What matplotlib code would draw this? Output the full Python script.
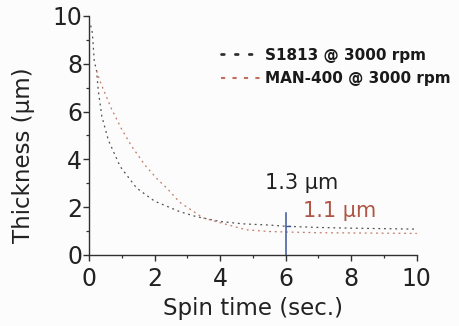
import matplotlib
matplotlib.use("Agg")
import matplotlib.pyplot as plt
from matplotlib.lines import Line2D
from matplotlib.ticker import MultipleLocator

# ---- data ----
s1813_t = [0.05, 0.1, 0.16, 0.23, 0.28, 0.39, 0.59, 0.95, 1.45, 2.0, 2.77, 3.28, 4.0, 4.7, 5.5, 6.0, 7.0, 8.0, 9.0, 10.0]
s1813_y = [9.6, 9.3, 8.1, 7.7, 6.9, 5.8, 4.8, 3.7, 2.8, 2.25, 1.81, 1.6, 1.4, 1.3, 1.25, 1.2, 1.15, 1.12, 1.1, 1.08]
man_t = [0.23, 0.34, 0.49, 0.69, 1.0, 1.3, 1.71, 2.1, 2.37, 2.77, 3.48, 4.0, 4.8, 5.5, 6.0, 7.0, 8.0, 9.0, 10.0]
man_y = [7.7, 7.25, 6.75, 6.1, 5.25, 4.55, 3.75, 3.15, 2.8, 2.2, 1.55, 1.35, 1.05, 0.98, 0.96, 0.93, 0.92, 0.91, 0.9]
labels = ["S1813 @ 3000 rpm", "MAN-400 @ 3000 rpm"]
marker_t = 6.0
marker_top = 1.75
marker_cross = 1.2
ann_texts = ["1.3 \u03bcm", "1.1 \u03bcm"]
ann_pos = [(5.37, 3.0), (6.52, 1.84)]

black_c = "#505050"
red_c = "#c07a68"

plt.rcParams['font.family'] = ['DejaVu Sans']
fig = plt.figure(figsize=(4.59, 3.26), dpi=100)
fig.patch.set_facecolor("#fcfcfc")
ax = fig.add_axes([0.194, 0.218, 0.714, 0.733])
ax.set_facecolor("#fcfcfc")

ax.plot(s1813_t, s1813_y, color=black_c, lw=0.9, ls=(0, (1.5, 3)))
ax.plot(man_t, man_y, color=red_c, lw=0.9, ls=(0, (1.5, 3)))

ax.plot([marker_t, marker_t], [0, marker_top], color="#3a55a0", lw=1.1)
ax.plot([marker_t, marker_t + 0.12], [marker_cross, marker_cross], color="#3a55a0", lw=1.0)

ax.text(ann_pos[0][0], ann_pos[0][1], ann_texts[0], fontsize=15, color="#202020", va="center")
ax.text(ann_pos[1][0], ann_pos[1][1], ann_texts[1], fontsize=15, color="#b05545", va="center")

ax.set_xlim(0, 10)
ax.set_ylim(0, 10)
ax.xaxis.set_major_locator(MultipleLocator(2))
ax.xaxis.set_minor_locator(MultipleLocator(1))
ax.yaxis.set_major_locator(MultipleLocator(2))
ax.yaxis.set_minor_locator(MultipleLocator(1))
for s in ["top", "right"]:
    ax.spines[s].set_visible(False)
for s in ["left", "bottom"]:
    ax.spines[s].set_color("#303030")
    ax.spines[s].set_linewidth(1.0)
ax.tick_params(which="major", direction="out", length=4, width=1.0, labelsize=17, colors="#303030")
ax.tick_params(axis="y", which="major", pad=1)
ax.tick_params(axis="x", which="major", pad=5)
ax.tick_params(which="minor", direction="out", length=2.5, width=0.9, colors="#303030")
for lab in ax.get_xticklabels() + ax.get_yticklabels():
    lab.set_color("#222222")

ax.set_xlabel("Spin time (sec.)", fontsize=16.5, color="#222222", labelpad=4)
ax.set_ylabel("Thickness (\u03bcm)", fontsize=16.5, color="#222222")
ax.yaxis.set_label_coords(-0.165, 0.418)

handles = [Line2D([], [], color="#303030", lw=2.0, ls=(0, (1, 4)), dash_capstyle="round"),
           Line2D([], [], color="#c07060", lw=1.5, ls=(0, (2, 3.5)))]
leg = ax.legend(handles, labels, loc="upper right", bbox_to_anchor=(1.145, 0.925),
                frameon=False, prop={"size": 11, "weight": "bold"},
                handlelength=2.6, handletextpad=0.3, labelspacing=0.55)
for t in leg.get_texts():
    t.set_color("#1a1a1a")

fig.savefig("out.png", dpi=100, facecolor=fig.get_facecolor())
